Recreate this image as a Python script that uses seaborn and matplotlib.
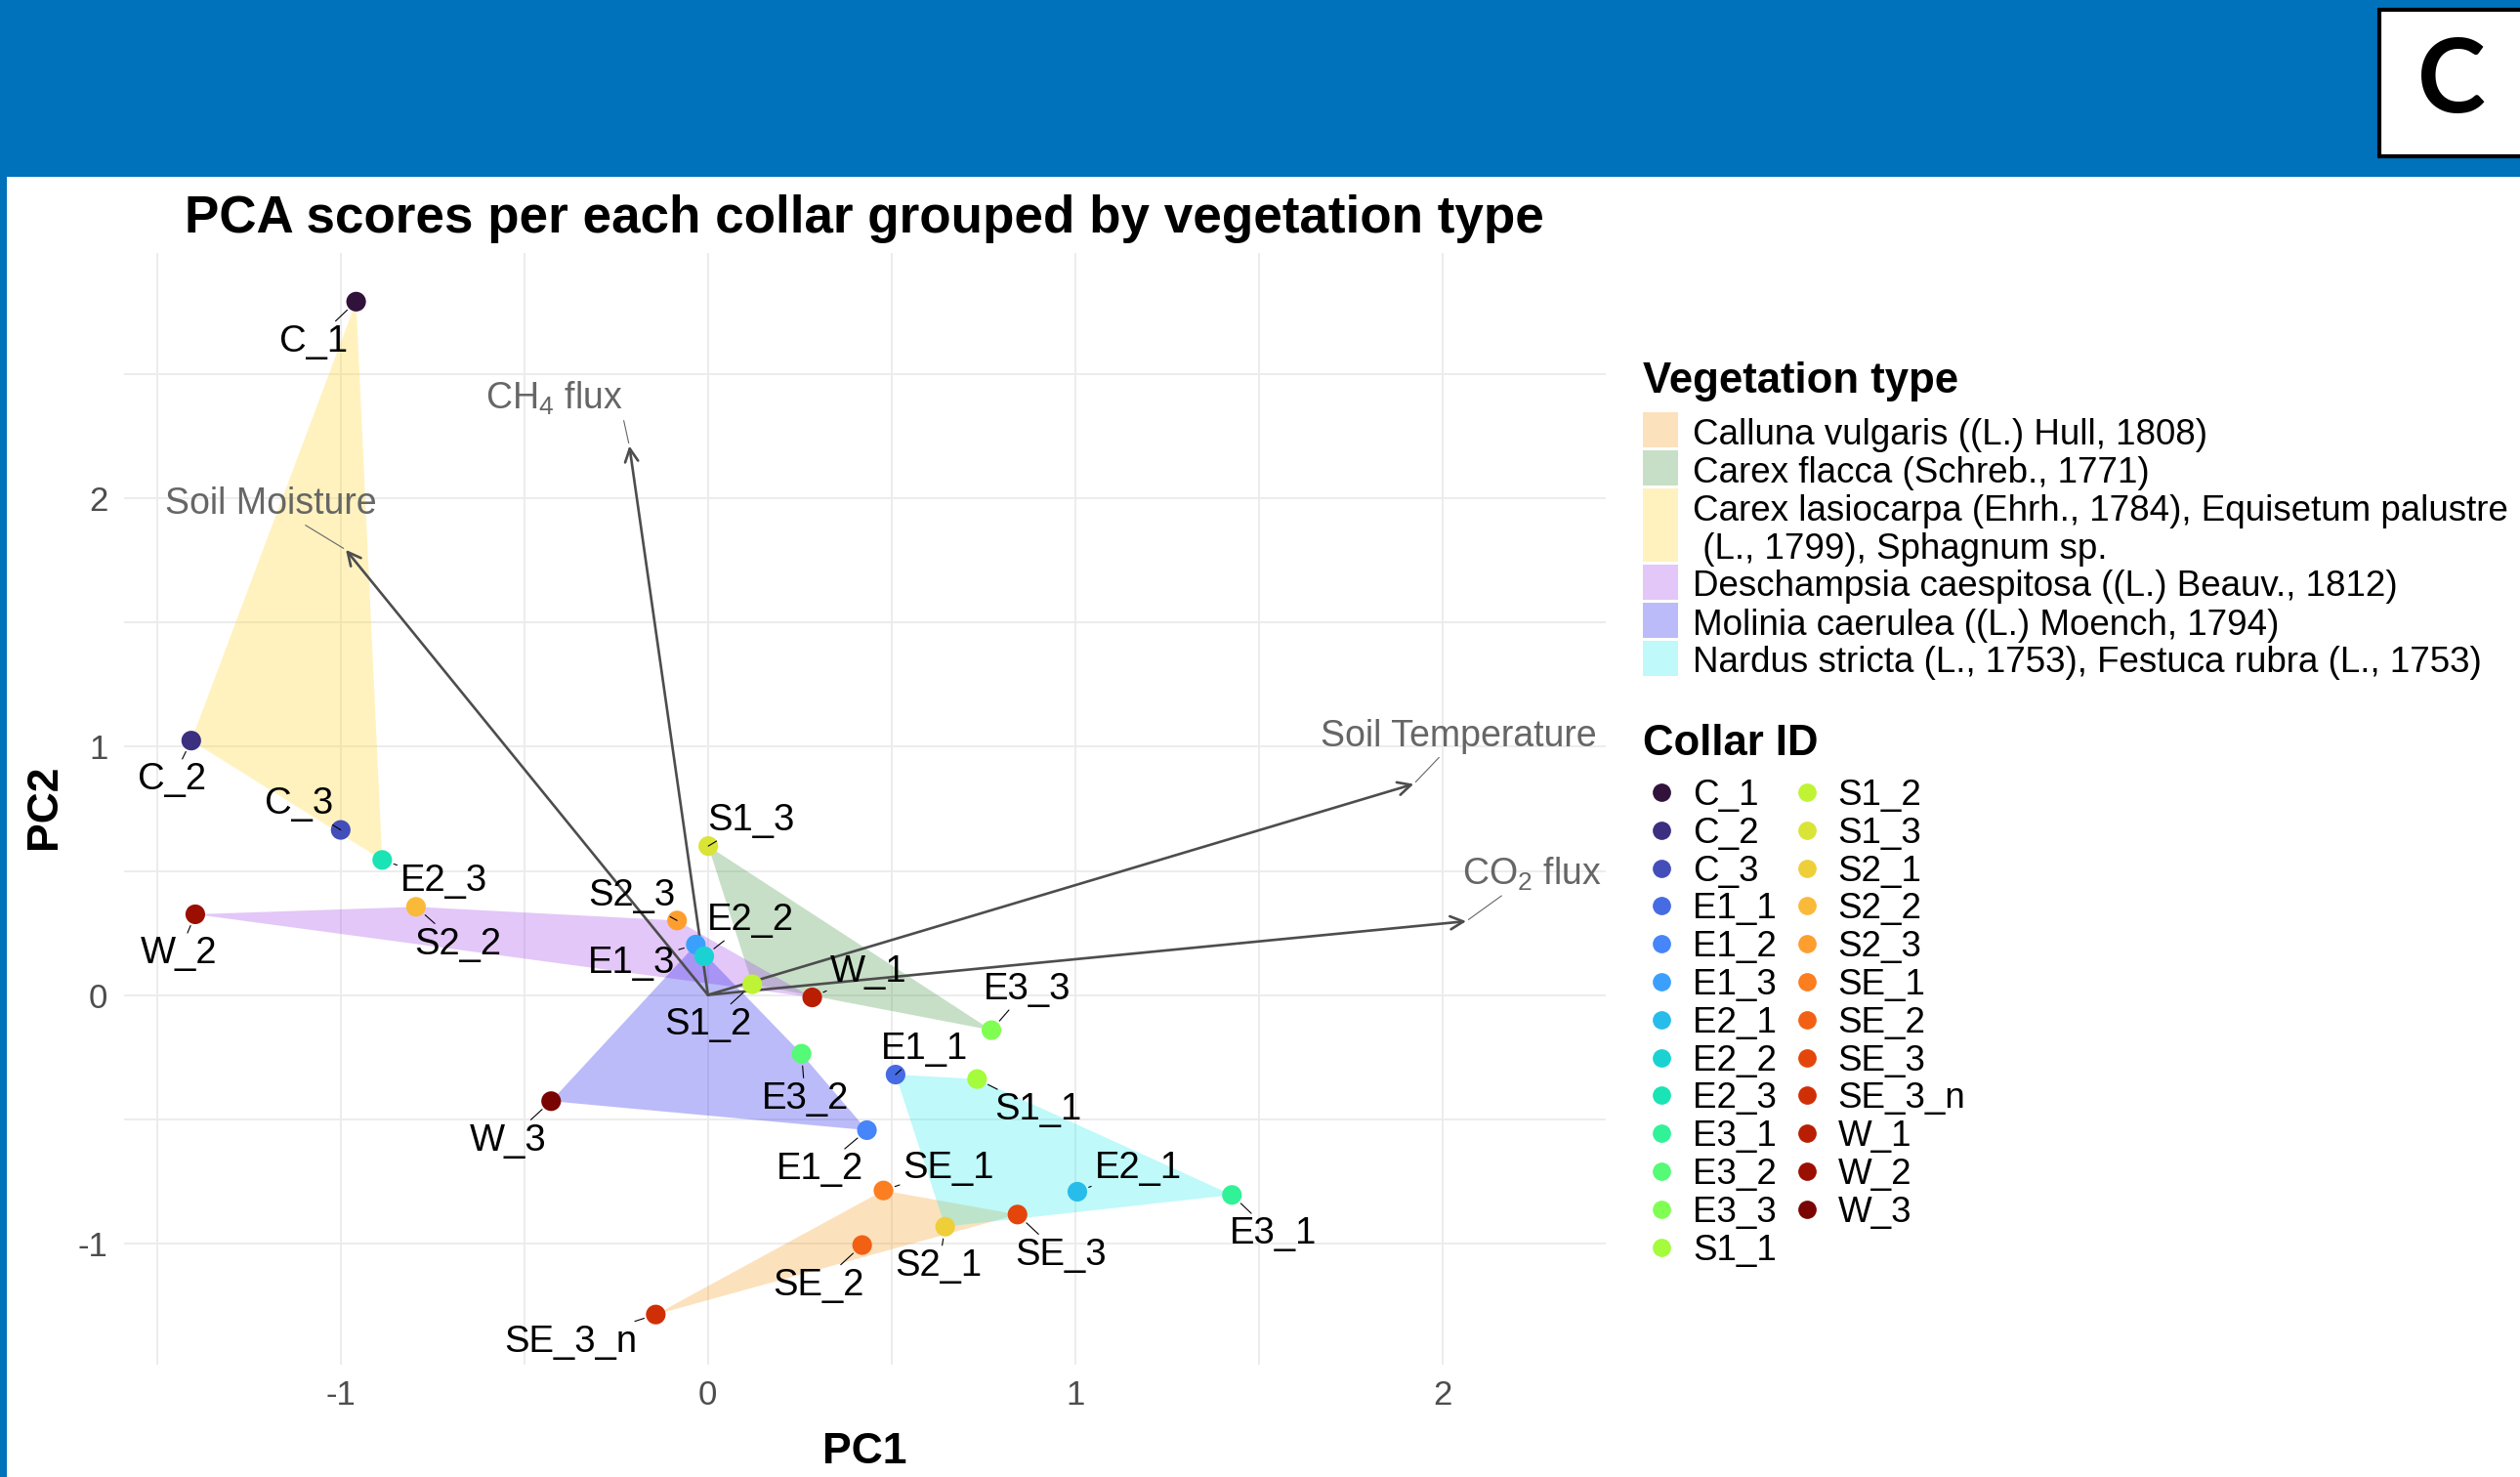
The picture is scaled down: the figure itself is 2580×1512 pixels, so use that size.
import numpy as np
import pandas as pd
import matplotlib
matplotlib.use('Agg')
import matplotlib.pyplot as plt
from matplotlib.patches import Rectangle
import seaborn as sns

# ---- data: PCA scores per collar ----
collar_ids = ['C_1', 'C_2', 'C_3', 'E1_1', 'E1_2', 'E1_3', 'E2_1', 'E2_2', 'E2_3',
              'E3_1', 'E3_2', 'E3_3', 'S1_1', 'S1_2', 'S1_3', 'S2_1', 'S2_2', 'S2_3',
              'SE_1', 'SE_2', 'SE_3', 'SE_3_n', 'W_1', 'W_2', 'W_3']
pc1 = [-0.958, -1.407, -1.000, 0.511, 0.433, -0.033, 1.006, -0.010, -0.887,
       1.427, 0.255, 0.772, 0.733, 0.121, 0.001, 0.646, -0.795, -0.084,
       0.478, 0.420, 0.843, -0.142, 0.284, -1.396, -0.427]
pc2 = [2.794, 1.025, 0.665, -0.321, -0.545, 0.203, -0.793, 0.156, 0.544,
       -0.806, -0.237, -0.142, -0.339, 0.043, 0.600, -0.934, 0.355, 0.300,
       -0.788, -1.008, -0.885, -1.288, -0.010, 0.325, -0.428]
veg_of_collar = ['lasio', 'lasio', 'lasio', 'nardus', 'molinia', 'molinia', 'nardus', 'molinia', 'lasio',
                 'nardus', 'molinia', 'flacca', 'nardus', 'flacca', 'flacca', 'nardus', 'desch', 'desch',
                 'calluna', 'calluna', 'calluna', 'calluna', 'desch', 'desch', 'molinia']

veg_keys = ['calluna', 'flacca', 'lasio', 'desch', 'molinia', 'nardus']
veg_names = ['Calluna vulgaris ((L.) Hull, 1808)',
             'Carex flacca (Schreb., 1771)',
             'Carex lasiocarpa (Ehrh., 1784), Equisetum palustre\n (L., 1799), Sphagnum sp.',
             'Deschampsia caespitosa ((L.) Beauv., 1812)',
             'Molinia caerulea ((L.) Moench, 1794)',
             'Nardus stricta (L., 1753), Festuca rubra (L., 1753)']

# environmental loadings (arrows)
env_labels = ['Soil Moisture', 'CH$_{\\mathrm{4}}$ flux', 'Soil Temperature', 'CO$_{\\mathrm{2}}$ flux']
load_pc1 = [-0.986, -0.214, 1.922, 2.065]
load_pc2 = [1.794, 2.213, 0.850, 0.297]

# ---- layout (repelled label placement, in data units) ----
label_offset = {
    'C_1': (-0.116, -0.162), 'C_2': (-0.052, -0.158), 'C_3': (-0.113, 0.104),
    'E1_1': (0.078, 0.104), 'E1_2': (-0.128, -0.159), 'E1_3': (-0.174, -0.076),
    'E2_1': (0.165, 0.095), 'E2_2': (0.127, 0.146), 'E2_3': (0.168, -0.086),
    'E3_1': (0.112, -0.158), 'E3_2': (0.010, -0.181), 'E3_3': (0.097, 0.165),
    'S1_1': (0.167, -0.125), 'S1_2': (-0.121, -0.163), 'S1_3': (0.116, 0.104),
    'S2_1': (-0.017, -0.159), 'S2_2': (0.115, -0.151), 'S2_3': (-0.123, 0.099),
    'SE_1': (0.177, 0.090), 'SE_2': (-0.120, -0.163), 'SE_3': (0.118, -0.163),
    'SE_3_n': (-0.232, -0.111), 'W_1': (0.152, 0.104), 'W_2': (-0.045, -0.159),
    'W_3': (-0.117, -0.159),
}
env_label_offset = [(-0.203, 0.183), (-0.204, 0.190), (0.123, 0.191), (0.179, 0.191)]
env_label_relpos = [(0.5, 0.5), (1.0, 0.0), (0.5, 0.5), (0.5, 0.5)]

veg_colors = {'calluna': '#F89E26', 'flacca': '#489848', 'lasio': '#FFD72D',
              'desch': '#A548E8', 'molinia': '#2020EE', 'nardus': '#2DEEEE'}
fill_alpha = 0.3

df = pd.DataFrame({'Collar': collar_ids, 'PC1': pc1, 'PC2': pc2, 'Veg': veg_of_collar})
turbo = matplotlib.colormaps['turbo'](np.linspace(0, 1, len(collar_ids)))
collar_pal = {c: turbo[i] for i, c in enumerate(collar_ids)}


def convex_hull(points):
    pts = sorted(set(points))
    if len(pts) < 3:
        return pts

    def cross(o, a, b):
        return (a[0] - o[0]) * (b[1] - o[1]) - (a[1] - o[1]) * (b[0] - o[0])
    lower, upper = [], []
    for p in pts:
        while len(lower) >= 2 and cross(lower[-2], lower[-1], p) <= 0:
            lower.pop()
        lower.append(p)
    for p in reversed(pts):
        while len(upper) >= 2 and cross(upper[-2], upper[-1], p) <= 0:
            upper.pop()
        upper.append(p)
    return lower[:-1] + upper[:-1]


sns.set_style('whitegrid')
plt.rcParams['font.family'] = ['Liberation Sans', 'DejaVu Sans']
plt.rcParams['mathtext.fontset'] = 'custom'
plt.rcParams['mathtext.rm'] = 'Liberation Sans'
plt.rcParams['mathtext.it'] = 'Liberation Sans:italic'
plt.rcParams['axes.unicode_minus'] = False
plt.rcParams['text.color'] = 'black'
plt.rcParams['axes.labelcolor'] = 'black'

W, H = 2580, 1512
fig = plt.figure(figsize=(W / 100, H / 100), dpi=100)
fig.patch.set_facecolor('white')

# overlay in pixel coords for header band and legends
ov = fig.add_axes([0, 0, 1, 1])
ov.set_xlim(0, W)
ov.set_ylim(H, 0)
ov.axis('off')
ov.add_patch(Rectangle((0, 0), W, 181, color='#0071BB', lw=0))
ov.add_patch(Rectangle((0, 0), 7, H, color='#0071BB', lw=0))
ov.add_patch(Rectangle((2436, 10), 160, 150, facecolor='white', edgecolor='black', lw=3))
ov.text(2510, 85, 'C', fontsize=76, fontweight='bold', family=['Lato', 'DejaVu Sans'],
        ha='center', va='center', color='black')

# title
ov.text(189, 238, 'PCA scores per each collar grouped by vegetation type',
        fontsize=38.2, fontweight='bold', va='baseline', ha='left', color='black')

# main panel
ax = fig.add_axes([127 / W, 1 - 1397 / H, (1644 - 127) / W, (1397 - 259) / H])
ax.set_facecolor('none')

# hulls
for k in veg_keys:
    sub = df[df['Veg'] == k]
    hpts = convex_hull(list(zip(sub['PC1'], sub['PC2'])))
    ax.fill([p[0] for p in hpts], [p[1] for p in hpts], color=veg_colors[k],
            alpha=fill_alpha, lw=0, zorder=1)

# loading arrows
for lab, lx, ly, off, rp in zip(env_labels, load_pc1, load_pc2, env_label_offset, env_label_relpos):
    ax.annotate('', xy=(lx, ly), xytext=(0, 0),
                arrowprops=dict(arrowstyle='->', mutation_scale=24, lw=1.9,
                                color='#4D4D4D', shrinkA=0, shrinkB=0), zorder=3)
    ax.annotate(lab, xy=(lx, ly), xytext=(lx + off[0], ly + off[1]),
                ha='center', va='center', fontsize=27, color='#666666',
                arrowprops=dict(arrowstyle='-', lw=0.8, color='#666666', relpos=rp,
                                shrinkA=0, shrinkB=2), zorder=3)

# points
sns.scatterplot(data=df, x='PC1', y='PC2', hue='Collar', palette=collar_pal,
                s=210, edgecolor='none', linewidth=0, legend=False, ax=ax, zorder=5)

# point labels
for cid, x, y in zip(collar_ids, pc1, pc2):
    dx, dy = label_offset[cid]
    ax.annotate(cid, xy=(x, y), xytext=(x + dx, y + dy), ha='center', va='center',
                fontsize=27.5, color='black',
                arrowprops=dict(arrowstyle='-', lw=0.8, color='black',
                                shrinkA=0, shrinkB=9), zorder=6)

ax.set_xlim(-1.59, 2.445)
ax.set_ylim(-1.49, 2.99)
ax.set_xticks([-1, 0, 1, 2])
ax.set_yticks([-1, 0, 1, 2])
ax.set_xticks(np.arange(-1.5, 2.01, 0.5), minor=True)
ax.set_yticks(np.arange(-1.0, 2.51, 0.5), minor=True)
ax.grid(which='both', color='#EBEBEB', lw=1.3)
for s in ax.spines.values():
    s.set_visible(False)
ax.tick_params(which='both', length=0, labelsize=25, labelcolor='#4D4D4D')
ax.tick_params(axis='x', pad=11)
ax.tick_params(axis='y', pad=12)
ax.set_xlabel('PC1', fontsize=32, fontweight='bold', color='black')
ax.set_ylabel('PC2', fontsize=32, fontweight='bold', color='black')
ax.xaxis.set_label_coords(0.5, (1397 - 1498) / (1397 - 259))
ax.xaxis.label.set_verticalalignment('baseline')
ax.yaxis.set_label_coords((57 - 127) / (1644 - 127), (1397 - 826) / (1397 - 259))
ax.yaxis.label.set_verticalalignment('baseline')

# legend: vegetation type
ov.text(1682, 402, 'Vegetation type', fontsize=31.5, fontweight='bold', va='baseline', color='black')
ytop = 422
for k, name in zip(veg_keys, veg_names):
    lines = name.split('\n')
    hgt = 36 + 38.5 * (len(lines) - 1)
    ov.add_patch(Rectangle((1682, ytop), 36, hgt, facecolor=veg_colors[k],
                           alpha=fill_alpha, lw=0))
    for j, ln in enumerate(lines):
        ov.text(1733, ytop + 33 + 38.5 * j, ln, fontsize=26.5, va='baseline', color='black')
    ytop += hgt + 3

# legend: collar id
ov.text(1682, 773, 'Collar ID', fontsize=31.5, fontweight='bold', va='baseline', color='black')
nrow = int(np.ceil(len(collar_ids) / 2))
for i, cid in enumerate(collar_ids):
    col, row = divmod(i, nrow)
    yc = 811 + row * 38.8
    xd = 1701 + col * 148.5
    ov.plot([xd], [yc], 'o', ms=13.5, color=collar_pal[cid], mec='none')
    ov.text(xd + 32, yc + 13, cid, fontsize=26.5, va='baseline', color='black')

fig.savefig('out.png', dpi=100)
